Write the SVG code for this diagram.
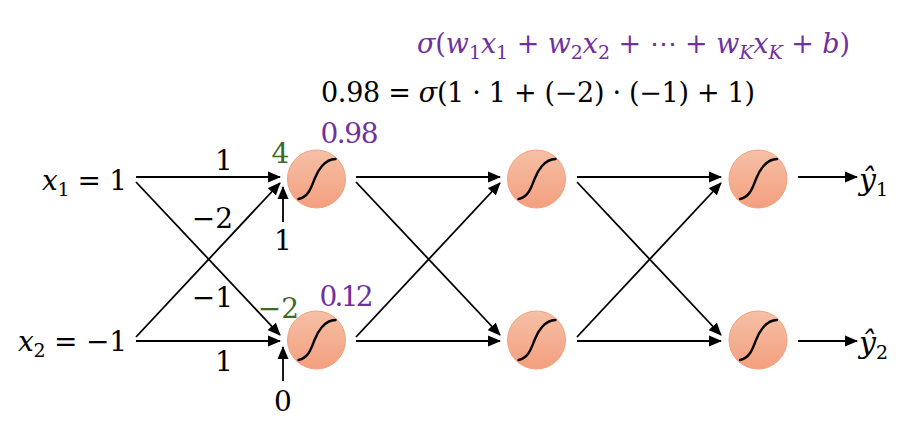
<svg xmlns="http://www.w3.org/2000/svg" width="905" height="428" viewBox="0 0 905 428">
  <style>
    .t { font-family: "DejaVu Serif", "Liberation Serif", serif; font-size: 28px; fill: #000; }
    .f { font-size: 27px; }
    .o { font-size: 30px; }
    .i { font-style: italic; }
    .sub { font-size: 19px; }
    .pur { fill: #7030a0; }
    .grn { fill: #3d6a25; }
    .nc { fill: url(#ng); stroke: #f2a27c; stroke-width: 1; }
    .sig { fill: none; stroke: #000; stroke-width: 2.4; stroke-linecap: round; }
    .c { stroke: #000; stroke-width: 1.8; fill: none; marker-end: url(#ah); }
  </style>
  <defs>
    <linearGradient id="ng" x1="0" y1="0" x2="0" y2="1">
      <stop offset="0" stop-color="#f6c0a6"/>
      <stop offset="1" stop-color="#f39f7e"/>
    </linearGradient>
    <marker id="ah" markerUnits="userSpaceOnUse" markerWidth="13" markerHeight="12" viewBox="0 0 13 11" refX="12" refY="5.5" orient="auto">
      <path d="M0,0 L13,5.5 L0,11 z" fill="#000"/>
    </marker>
  </defs>

  <!-- formulas -->
  <text class="t f pur" x="417" y="53" textLength="433" lengthAdjust="spacing"><tspan class="i">σ</tspan>(<tspan class="i">w</tspan><tspan class="sub" dy="6">1</tspan><tspan class="i" dy="-6">x</tspan><tspan class="sub" dy="6">1</tspan><tspan dy="-6"> + </tspan><tspan class="i">w</tspan><tspan class="sub" dy="6">2</tspan><tspan class="i" dy="-6">x</tspan><tspan class="sub" dy="6">2</tspan><tspan dy="-6"> + ⋯ + </tspan><tspan class="i">w</tspan><tspan class="sub i" dy="6">K</tspan><tspan class="i" dy="-6">x</tspan><tspan class="sub i" dy="6">K</tspan><tspan dy="-6"> + </tspan><tspan class="i">b</tspan>)</text>
  <text class="t f" x="321" y="102" textLength="434" lengthAdjust="spacing">0.98 = <tspan class="i">σ</tspan>(1 · 1 + (−2) · (−1) + 1)</text>

  <!-- connectors -->
  <g id="connectors">
    <line class="c" x1="136" y1="177" x2="280" y2="177"/>
    <line class="c" x1="136" y1="182" x2="280" y2="335"/>
    <line class="c" x1="136" y1="337" x2="280" y2="183"/>
    <line class="c" x1="136" y1="341" x2="280" y2="341"/>
    <line class="c" x1="283" y1="222" x2="283" y2="187"/>
    <line class="c" x1="283" y1="381" x2="283" y2="347"/>

    <line class="c" x1="356" y1="177" x2="500" y2="177"/>
    <line class="c" x1="356" y1="182" x2="500" y2="335"/>
    <line class="c" x1="356" y1="337" x2="500" y2="183"/>
    <line class="c" x1="356" y1="341" x2="500" y2="341"/>

    <line class="c" x1="577" y1="177" x2="721" y2="177"/>
    <line class="c" x1="577" y1="182" x2="721" y2="335"/>
    <line class="c" x1="577" y1="337" x2="721" y2="183"/>
    <line class="c" x1="577" y1="341" x2="721" y2="341"/>

    <line class="c" x1="798" y1="177" x2="857" y2="177"/>
    <line class="c" x1="798" y1="341" x2="857" y2="341"/>
  </g>

  <!-- inputs -->
  <g id="in1">
    <text class="t" x="42" y="190" textLength="85" lengthAdjust="spacing"><tspan class="i">x</tspan><tspan class="sub" dy="6">1</tspan><tspan dy="-6"> = 1</tspan></text>
  </g>
  <g id="in2">
    <text class="t" x="18" y="351" textLength="109" lengthAdjust="spacing"><tspan class="i">x</tspan><tspan class="sub" dy="6">2</tspan><tspan dy="-6"> = −1</tspan></text>
  </g>

  <!-- weight / bias labels -->
  <g id="labels" text-anchor="middle">
    <text class="t" x="224" y="170">1</text>
    <text class="t" x="212.5" y="228">−2</text>
    <text class="t" x="212.5" y="307">−1</text>
    <text class="t" x="224" y="371">1</text>
    <text class="t" x="283" y="250">1</text>
    <text class="t" x="283" y="411">0</text>
    <text class="t grn" x="280.5" y="163">4</text>
    <text class="t grn" x="278.5" y="318">−2</text>
    <text class="t pur" x="349.5" y="143" textLength="58" lengthAdjust="spacing">0.98</text>
    <text class="t pur" x="346.5" y="306" textLength="54" lengthAdjust="spacing">0.12</text>
  </g>

  <!-- neurons -->
  <g id="n1a" transform="translate(316.5,179)"><circle class="nc" r="29"/><path class="sig" d="M-18,20 C-8,18 -5,8 -2,0 S8,-20 19,-20"/></g>
  <g id="n1b" transform="translate(316.5,340)"><circle class="nc" r="29"/><path class="sig" d="M-18,20 C-8,18 -5,8 -2,0 S8,-20 19,-20"/></g>
  <g id="n2a" transform="translate(536.5,179)"><circle class="nc" r="29"/><path class="sig" d="M-18,20 C-8,18 -5,8 -2,0 S8,-20 19,-20"/></g>
  <g id="n2b" transform="translate(536.5,340)"><circle class="nc" r="29"/><path class="sig" d="M-18,20 C-8,18 -5,8 -2,0 S8,-20 19,-20"/></g>
  <g id="n3a" transform="translate(758,179)"><circle class="nc" r="29"/><path class="sig" d="M-18,20 C-8,18 -5,8 -2,0 S8,-20 19,-20"/></g>
  <g id="n3b" transform="translate(758,340)"><circle class="nc" r="29"/><path class="sig" d="M-18,20 C-8,18 -5,8 -2,0 S8,-20 19,-20"/></g>

  <!-- outputs -->
  <g id="out1">
    <text class="t o" x="859" y="190"><tspan class="i">ŷ</tspan><tspan class="sub" dy="6">1</tspan></text>
  </g>
  <g id="out2">
    <text class="t o" x="859" y="353"><tspan class="i">ŷ</tspan><tspan class="sub" dy="6">2</tspan></text>
  </g>
</svg>
